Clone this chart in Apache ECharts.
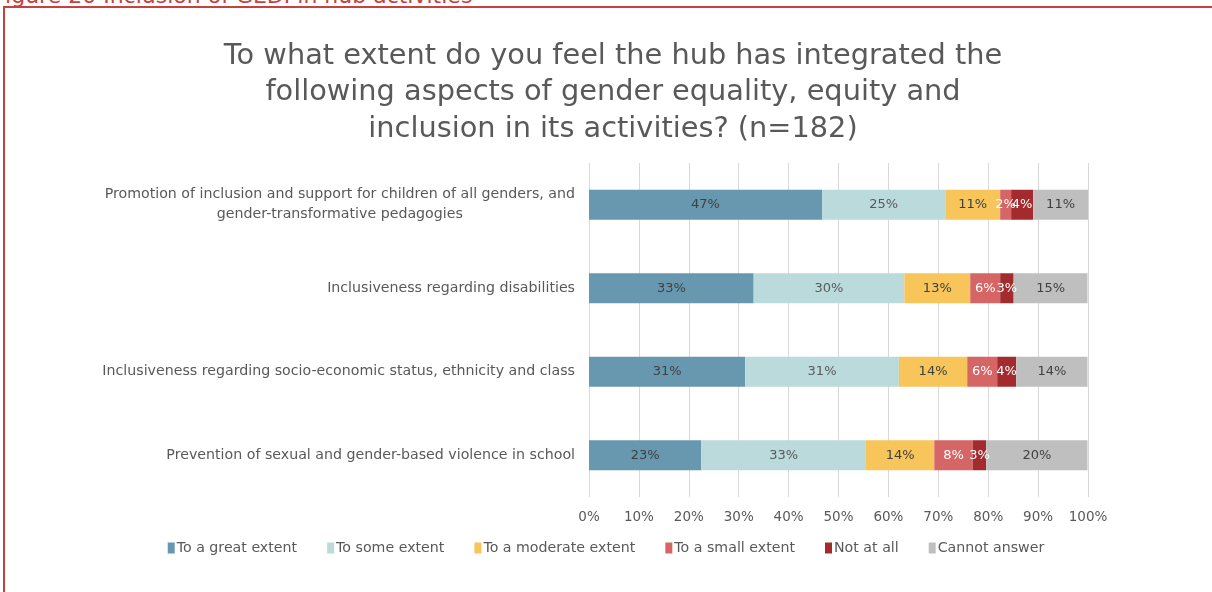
<!DOCTYPE html>
<html>
<head>
<meta charset="utf-8">
<script src="https://cdn.jsdelivr.net/npm/echarts@6/dist/echarts.min.js"></script>
<style>
html,body{margin:0;padding:0;background:#fff;overflow:hidden;}
#frame{position:absolute;left:3px;top:6px;width:1220px;height:600px;border-left:2px solid #c9403e;border-top:2px solid #c9403e;box-sizing:border-box;}
#cap{position:absolute;left:-6px;top:-17px;font-family:"DejaVu Sans",sans-serif;font-size:22px;color:#c9403e;white-space:nowrap;}
#chart{position:absolute;left:0;top:0;width:1212px;height:592px;}
</style>
</head>
<body>
<div id="cap">Figure 20 Inclusion of GEDI in hub activities</div>
<div id="frame"></div>
<div id="chart"></div>
<script>
const categories = [
  "Promotion of inclusion and support for children of all genders, and\ngender-transformative pedagogies",
  "Inclusiveness regarding disabilities",
  "Inclusiveness regarding socio-economic status, ethnicity and class",
  "Prevention of sexual and gender-based violence in school"
];
const seriesNames = ["To a great extent","To some extent","To a moderate extent","To a small extent","Not at all","Cannot answer"];
const greatExtent    = [46.7, 33.0, 31.3, 22.5];
const someExtent     = [24.7, 30.2, 30.8, 33.0];
const moderateExtent = [11.0, 13.2, 13.7, 13.7];
const smallExtent    = [2.2, 6.0, 6.0, 7.7];
const notAtAll       = [4.4, 2.7, 3.8, 2.7];
const cannotAnswer   = [11.0, 14.8, 14.3, 20.3];
const xTicks = [0,10,20,30,40,50,60,70,80,90,100];

const values = [greatExtent, someExtent, moderateExtent, smallExtent, notAtAll, cannotAnswer];
const colors = ["#6798af","#bbdadc","#f7c55a","#d66565","#a32b2e","#bfbfbf"];
const labelColors = ["#404040","#595959","#404040","#ffffff","#ffffff","#404040"];
const FONT = "DejaVu Sans";

const chart = echarts.init(document.getElementById('chart'));
chart.setOption({
  animation:false,
  title:{
    text:"To what extent do you feel the hub has integrated the\nfollowing aspects of gender equality, equity and\ninclusion in its activities? (n=182)",
    left:608, top:33, textAlign:'center',
    textStyle:{fontFamily:FONT,fontSize:28.8,fontWeight:'normal',color:'#595959',lineHeight:36.5}
  },
  legend:{
    data:seriesNames, bottom:32, left:'center', itemWidth:7, itemHeight:11, itemGap:30,
    icon:'rect',
    textStyle:{fontFamily:FONT,fontSize:14.2,color:'#595959',padding:[0,0,0,-3]}
  },
  grid:{left:589,right:124,top:163,bottom:95},
  xAxis:{
    type:'value', min:0, max:xTicks[xTicks.length-1], interval:10,
    axisLine:{show:false}, axisTick:{show:false},
    splitLine:{lineStyle:{color:'#d9d9d9',width:1}},
    axisLabel:{formatter:v=>v+'%',fontFamily:FONT,fontSize:13.5,color:'#595959',margin:13}
  },
  yAxis:{
    type:'category', data:categories, inverse:true,
    axisLine:{show:false}, axisTick:{show:false},
    axisLabel:{
      margin:14, fontFamily:FONT, fontSize:14.2, color:'#595959', lineHeight:20,
      formatter:function(v){
        return v.split('\n').map(s=>'{c|'+s+'}').join('\n');
      },
      rich:{c:{align:'center',fontFamily:FONT,fontSize:14.2,color:'#595959',lineHeight:20}}
    }
  },
  series: seriesNames.map((n,i)=>({
    name:n, type:'bar', stack:'total', barWidth:30,
    data:values[i],
    itemStyle:{color:colors[i]},
    label:{show:true,position:'inside',formatter:p=>Math.round(p.value)+'%',
      fontFamily:FONT,fontSize:13,color:labelColors[i]}
  }))
});
</script>
</body>
</html>
